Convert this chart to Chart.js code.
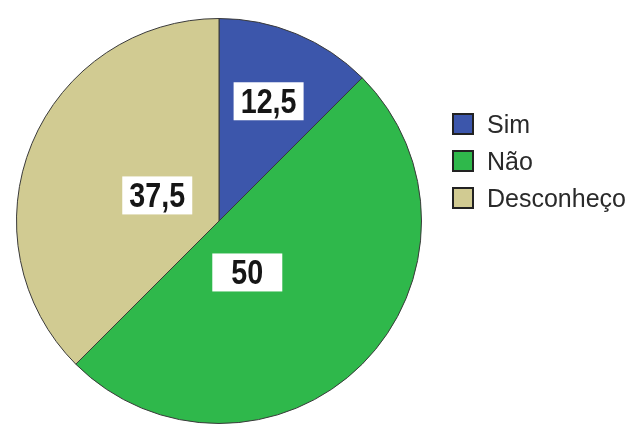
<!DOCTYPE html>
<html lang="pt">
  <head>
    <meta charset="UTF-8" />
    <script src="https://cdn.jsdelivr.net/npm/chart.js@4/dist/chart.umd.min.js"></script>
    <title>Pie</title>
    <style>
      body { margin: 0; background: #fff; }
    </style>
  </head>
  <body>
    <canvas id="myChart" width="635" height="427"></canvas>
  </body>
  <script>
    // data
    const categories = ["Sim", "Não", "Desconheço"];
    const percentages = [12.5, 50, 37.5];

    const sliceColors = ["#3c56ab", "#2fb84b", "#d1cb92"];
    // where each value box sits: fraction along the slice angle, fraction of radius
    const labelAngleFrac = [0.5, 0.59, 0.5];
    const labelRadiusFrac = [0.64, 0.29, 0.33];

    function fmt(v) {
      return String(v).replace(".", ",");
    }

    const valueBoxes = {
      id: "valueBoxes",
      afterDatasetsDraw(chart) {
        const ctx = chart.ctx;
        const meta = chart.getDatasetMeta(0);
        meta.data.forEach((arc, i) => {
          const p = arc.getProps(["x", "y", "startAngle", "endAngle", "outerRadius"], true);
          const a = p.startAngle + (p.endAngle - p.startAngle) * labelAngleFrac[i];
          const r = p.outerRadius * labelRadiusFrac[i];
          const cx = p.x + Math.cos(a) * r;
          const cy = p.y + Math.sin(a) * r;
          ctx.save();
          ctx.fillStyle = "#fff";
          ctx.fillRect(cx - 35, cy - 19, 70, 38);
          ctx.translate(cx, cy);
          ctx.scale(0.82, 1);
          ctx.fillStyle = "#161616";
          ctx.font = "bold 35px 'Liberation Sans', Arial, sans-serif";
          ctx.textAlign = "center";
          ctx.textBaseline = "middle";
          ctx.fillText(fmt(percentages[i]), 0, 2);
          ctx.restore();
        });
      },
    };

    const sideLegend = {
      id: "sideLegend",
      afterDraw(chart) {
        const ctx = chart.ctx;
        ctx.save();
        ctx.font = "25px 'Liberation Sans', Arial, sans-serif";
        ctx.textBaseline = "alphabetic";
        chart.data.labels.forEach((lab, i) => {
          const y = 124 + i * 37;
          ctx.fillStyle = sliceColors[i];
          ctx.fillRect(453, y - 10, 20, 20);
          ctx.strokeStyle = "#222";
          ctx.lineWidth = 2;
          ctx.strokeRect(453, y - 10, 20, 20);
          ctx.fillStyle = "#2a2a2a";
          ctx.fillText(lab, 487, y + 9);
        });
        ctx.restore();
      },
    };

    new Chart("myChart", {
      type: "pie",
      data: {
        labels: categories,
        datasets: [
          {
            data: percentages,
            backgroundColor: sliceColors,
            borderColor: "#3a3a3a",
            borderWidth: 1,
          },
        ],
      },
      options: {
        responsive: false,
        animation: false,
        layout: { padding: { left: 16, top: 18, right: 213, bottom: 3 } },
        plugins: {
          legend: { display: false },
          tooltip: { enabled: false },
        },
      },
      plugins: [valueBoxes, sideLegend],
    });
  </script>
</html>
